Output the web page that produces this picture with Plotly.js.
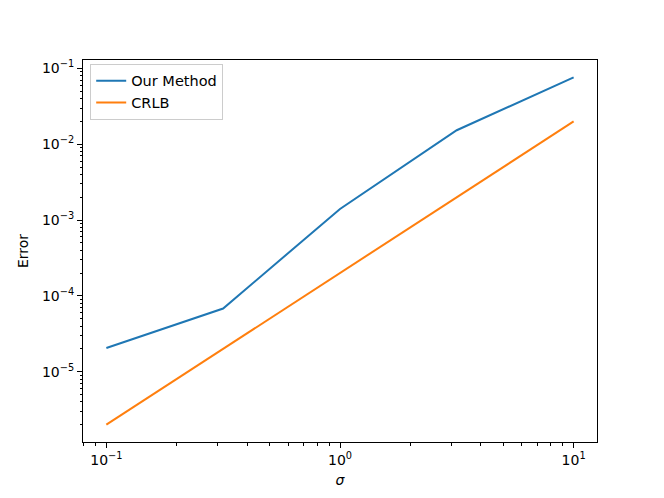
<!DOCTYPE html>
<html>
<head>
<meta charset="utf-8">
<script src="https://cdn.plot.ly/plotly-3.0.1.min.js"></script>
<style>body{margin:0;} #plot{width:664px;height:498px;}</style>
</head>
<body>
<div id="plot"></div>
<script>
// sigma values and errors
var sigma = [0.1, 0.316, 1, 3.16, 10];
var ourMethod = [2.05e-5, 6.8e-5, 1.4e-3, 1.53e-2, 7.6e-2];
var crlb = [2e-6, 2e-5, 2e-4, 2e-3, 2e-2];

var xTickVals = [0.1, 1, 10];
var xTickText = ['10<sup>−1</sup>', '10<sup>0</sup>', '10<sup>1</sup>'];
var yTickVals = [1e-5, 1e-4, 1e-3, 1e-2, 1e-1];
var yTickText = ['10<sup>−5</sup>', '10<sup>−4</sup>', '10<sup>−3</sup>', '10<sup>−2</sup>', '10<sup>−1</sup>'];

// minor ticks at 2..9 of each decade, like matplotlib
function minorTicks(lo, hi) {
  var out = [];
  for (var e = lo; e <= hi; e++) {
    for (var m = 2; m <= 9; m++) out.push(m * Math.pow(10, e));
  }
  return out;
}

var font = {family: 'DejaVu Sans', size: 14, color: 'black'};

var data = [
  {x: sigma, y: ourMethod, name: 'Our Method', type: 'scatter', mode: 'lines',
   line: {color: '#1f77b4', width: 2}},
  {x: sigma, y: crlb, name: 'CRLB', type: 'scatter', mode: 'lines',
   line: {color: '#ff7f0e', width: 2}}
];

var axisCommon = {
  type: 'log', showgrid: false, zeroline: false, showline: true, mirror: true,
  linecolor: 'black', linewidth: 1, ticks: 'outside', ticklen: 5, tickwidth: 1,
  tickcolor: 'black', tickfont: font
};

var layout = {
  width: 664, height: 498,
  margin: {l: 83, r: 67, t: 60, b: 56},
  paper_bgcolor: 'white', plot_bgcolor: 'white',
  font: font,
  showlegend: true,
  legend: {x: 0.014, y: 0.99, xanchor: 'left', yanchor: 'top',
           bordercolor: '#cccccc', borderwidth: 1, bgcolor: 'rgba(255,255,255,0.8)',
           font: {family: 'DejaVu Sans', size: 14.5, color: 'black'}},
  xaxis: Object.assign({}, axisCommon, {
    range: [-1.1, 1.1], tickvals: xTickVals, ticktext: xTickText,
    minor: {tickvals: minorTicks(-2, 1), ticks: 'outside', ticklen: 2.5, tickwidth: 0.8, tickcolor: 'black', showgrid: false},
    title: {text: '<i>σ</i>', font: font, standoff: 8}
  }),
  yaxis: Object.assign({}, axisCommon, {
    range: [-5.928, -0.889], tickvals: yTickVals, ticktext: yTickText,
    minor: {tickvals: minorTicks(-7, -1), ticks: 'outside', ticklen: 2.5, tickwidth: 0.8, tickcolor: 'black', showgrid: false},
    title: {text: 'Error', font: font, standoff: 10}
  })
};

Plotly.newPlot('plot', data, layout, {displayModeBar: false});
</script>
</body>
</html>
